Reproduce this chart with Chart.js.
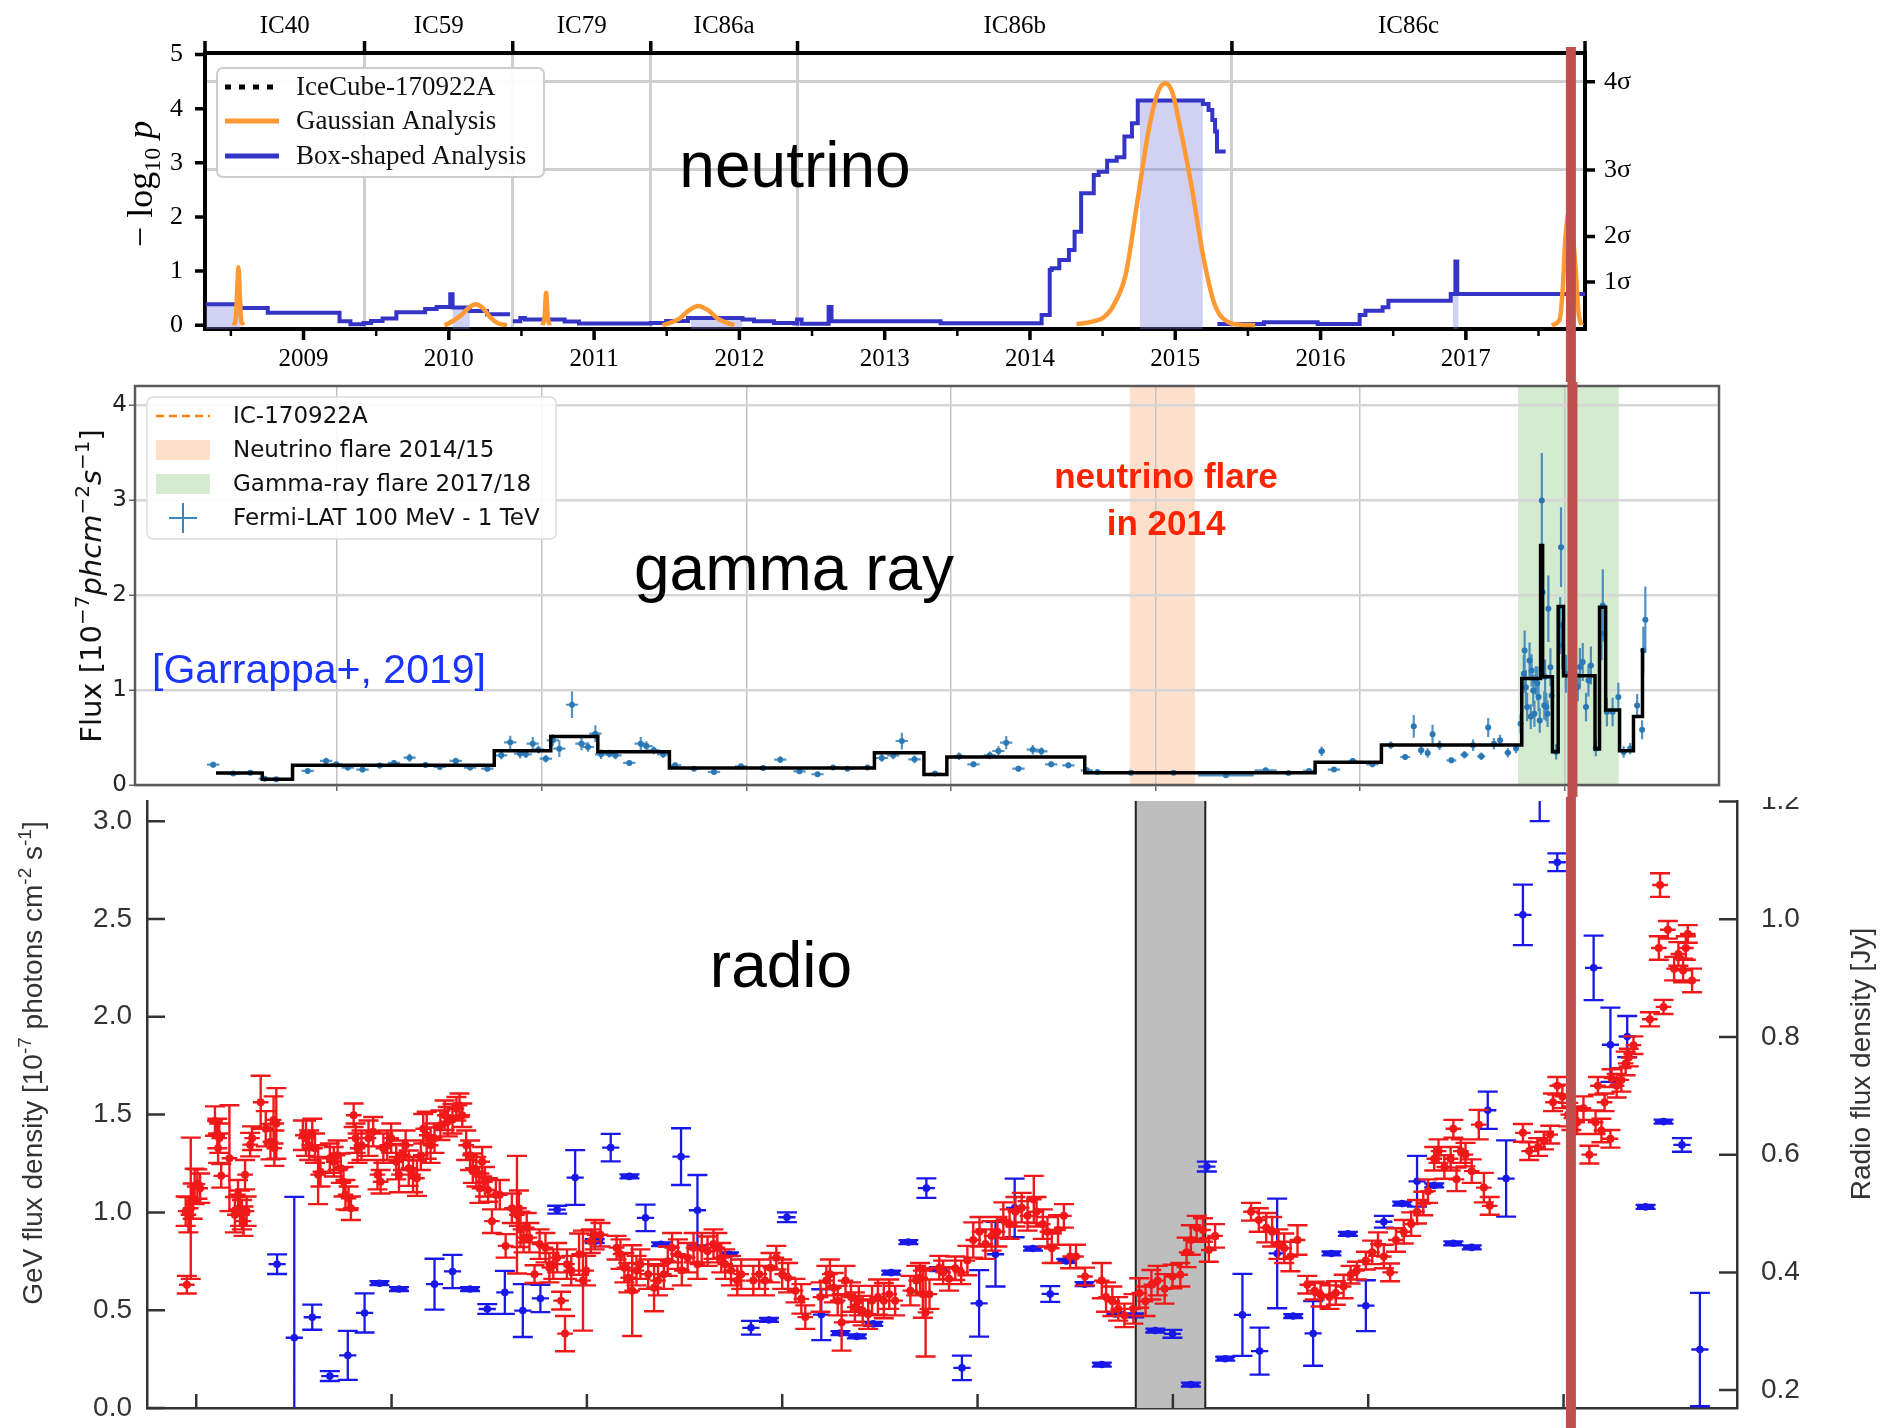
<!DOCTYPE html>
<html>
<head>
<meta charset="utf-8">
<script src="https://cdn.jsdelivr.net/npm/chart.js@4.4.0/dist/chart.umd.min.js"></script>
<style>
  html, body { margin: 0; padding: 0; background: #fff; }
  #wrap { position: relative; width: 1887px; height: 1428px; overflow: hidden; background: #fff; }
  canvas { position: absolute; left: 0; }
  #nu { top: 0; }
  #gam { top: 382px; }
  #rad { top: 797px; }
</style>
</head>
<body>
<div id="wrap">
  <canvas id="nu" width="1887" height="382"></canvas>
  <canvas id="gam" width="1887" height="415"></canvas>
  <canvas id="rad" width="1887" height="631"></canvas>
</div>
<script>
// ---------- neutrino panel (years) ----------
const NU_X_MIN = 2008.322, NU_X_MAX = 2017.82;
const NU_Y_MIN = -0.07, NU_Y_MAX = 5.03;
const YEAR_TICKS = [2009, 2010, 2011, 2012, 2013, 2014, 2015, 2016, 2017];
const HALF_YEAR_TICKS = [2008.5, 2009.5, 2010.5, 2011.5, 2012.5, 2013.5, 2014.5, 2015.5, 2016.5, 2017.5];
const P_TICKS = [0, 1, 2, 3, 4, 5];
const SIGMA_TICKS = [0.80, 1.64, 2.87, 4.50];
const SIGMA_LABELS = ['1σ', '2σ', '3σ', '4σ'];
const SEASON_EDGES = [2008.322, 2009.42, 2010.44, 2011.39, 2012.40, 2015.39, 2017.82];
const SEASON_NAMES = ['IC40', 'IC59', 'IC79', 'IC86a', 'IC86b', 'IC86c'];
const EVENT_YEAR = 2017.723;

const BOX_T = [2008.327, 2008.564, 2008.754, 2009.248, 2009.323, 2009.414, 2009.465, 2009.544, 2009.639, 2009.837,
  2009.916, 2010.010, 2010.026, 2010.145, 2010.263, 2010.421, 2010.431, 2010.441, 2010.492, 2010.524,
  2010.797, 2010.896, 2011.389, 2011.496, 2011.646, 2012.021, 2012.100, 2012.238, 2012.377, 2012.397,
  2012.428, 2012.614, 2012.634, 2013.385, 2014.080, 2014.136, 2014.149, 2014.202, 2014.268, 2014.307,
  2014.352, 2014.439, 2014.473, 2014.531, 2014.597, 2014.650, 2014.702, 2014.742, 2015.190, 2015.229,
  2015.255, 2015.274, 2015.287, 2015.347, 2015.32, 2015.290, 2015.611, 2015.980, 2016.269, 2016.309,
  2016.427, 2016.467, 2016.896, 2016.928, 2016.941, 2017.820];
const BOX_V = [0.388, 0.320, 0.228, 0.074, 0.019, 0.043, 0.080, 0.123, 0.240, 0.301,
  0.338, 0.572, 0.326, 0.264, 0.203, 0.203, null, 0.074, 0.135, 0.105,
  0.068, 0.031, 0.043, 0.080, 0.135, 0.105, 0.074, 0.043, 0.031, 0.105,
  0.025, 0.338, 0.074, 0.035, 0.189, 1.021, 1.052, 1.206, 1.390, 1.729,
  2.438, 2.776, 2.838, 3.041, 3.103, 3.485, 3.731, 4.150, 4.089, 3.978,
  3.793, 3.578, 3.208, 3.208, null, 0.022, 0.053, 0.022, 0.189, 0.269,
  0.331, 0.454, 0.577, 1.175, 0.577, 0.577];

const FILL_T0 = [2008.327, 2010.026, 2011.667, 2014.755, 2016.910];
const FILL_T1 = [2008.564, 2010.145, 2012.021, 2015.190, 2016.950];
const FILL_V = [0.388, 0.326, 0.135, 4.150, 0.577];

const GAUSS_T = [2008.520, 2008.535, 2008.545, 2008.552, 2008.559, 2008.569, 2008.584, 2008.60,
  2009.970, 2009.990, 2010.085, 2010.145, 2010.184, 2010.231, 2010.283, 2010.342, 2010.401, 2010.41,
  2010.645, 2010.660, 2010.666, 2010.670, 2010.674, 2010.680, 2010.695, 2010.70,
  2011.470, 2011.496, 2011.587, 2011.654, 2011.717, 2011.784, 2011.851, 2011.942, 2011.965, 2011.97,
  2014.320, 2014.420, 2014.510, 2014.580, 2014.660, 2014.740, 2014.820, 2014.880, 2014.930, 2014.980,
  2015.030, 2015.110, 2015.190, 2015.270, 2015.370, 2015.450, 2015.550, 2015.56,
  2017.590, 2017.645, 2017.665, 2017.685, 2017.710, 2017.735, 2017.758, 2017.776, 2017.797];
const GAUSS_V = [0, 0.15, 0.75, 1.07, 0.75, 0.15, 0, null,
  0, 0.02, 0.185, 0.338, 0.388, 0.326, 0.154, 0.031, 0.006, null,
  0, 0.18, 0.48, 0.6, 0.48, 0.18, 0, null,
  0, 0.02, 0.123, 0.277, 0.357, 0.277, 0.123, 0.02, 0, null,
  0.02, 0.06, 0.15, 0.39, 0.95, 2.3, 3.65, 4.30, 4.47, 4.30,
  3.7, 2.6, 1.31, 0.39, 0.05, 0.01, 0, null,
  0, 0.10, 0.6, 1.6, 2.1, 1.7, 0.95, 0.22, 0];

// ---------- gamma panel (MJD) ----------
const GAM_X_MIN = 54506, GAM_X_MAX = 58377;
const GAM_Y_MAX = 4.2;
const GAM_GRID = [55000, 55500, 56000, 56500, 57000, 57500, 58000];
const FLUX_TICKS = [0, 1, 2, 3, 4];
const EVENT_MJD = 58018.9;
const NU_FLARE = [56937, 57096];
const GAMMA_FLARE = [57886, 58132];

const GAM_T = [54697, 54746, 54788, 54823, 54851, 54928, 54973, 54998, 55026, 55062,
  55104, 55139, 55177, 55216, 55251, 55290, 55325, 55367, 55401, 55423,
  55447, 55461, 55478, 55492, 55510, 55527, 55543, 55574, 55597, 55613,
  55631, 55645, 55665, 55680, 55714, 55742, 55756, 55774, 55797, 55826,
  55872, 55921, 55987, 56041, 56083, 56130, 56174, 56212, 56247, 56296,
  56331, 56359, 56380, 56411, 56461, 56520, 56555, 56595, 56616, 56635,
  56665, 56700, 56721, 56745, 56787, 56832,
  56858, 56940, 57044, 57172, 57269, 57325, 57375, 57406, 57436, 57482,
  57530, 57575, 57610, 57631, 57649, 57665, 57677, 57694, 57723, 57755,
  57776, 57796, 57813, 57827, 57842, 57861, 57881, 57892, 57900, 57902,
  57905, 57908, 57914, 57917, 57919, 57923, 57926, 57929, 57933, 57936,
  57939, 57944, 57946, 57950, 57952, 57955, 57958, 57960, 57965, 57968,
  57979, 57989, 57991, 57994, 58003, 58032, 58037, 58044, 58052, 58058,
  58064, 58076, 58090, 58093, 58103, 58117, 58131, 58144, 58160, 58177,
  58189, 58192, 58197];
const GAM_F = [0.214, 0.120, 0.130, 0.067, 0.060, 0.148, 0.253, 0.218, 0.183, 0.162,
  0.204, 0.232, 0.288, 0.211, 0.190, 0.253, 0.183, 0.172, 0.312, 0.449,
  0.330, 0.323, 0.435, 0.372, 0.277, 0.470, 0.382, 0.845, 0.435, 0.400,
  0.540, 0.323, 0.330, 0.312, 0.232, 0.435, 0.410, 0.365, 0.323, 0.207,
  0.172, 0.137, 0.197, 0.179, 0.267, 0.144, 0.113, 0.183, 0.172, 0.183,
  0.284, 0.312, 0.463, 0.270, 0.120, 0.302, 0.218, 0.312, 0.358, 0.446,
  0.172, 0.372, 0.354, 0.218, 0.207, 0.155,
  0.137, 0.130, 0.130, 0.102, 0.155, 0.127, 0.148, 0.354, 0.162, 0.253,
  0.218, 0.418, 0.295, 0.618, 0.365, 0.337, 0.533, 0.418, 0.260, 0.319,
  0.418, 0.302, 0.604, 0.435, 0.470, 0.340, 0.383, 0.645, 1.170, 1.417,
  1.030, 0.821, 1.311, 0.720, 1.206, 0.996, 0.750, 1.101, 1.070, 0.926,
  0.680, 2.994, 2.030, 0.838, 1.140, 0.821, 0.750, 1.855, 1.240, 0.943,
  0.348, 1.680, 2.503, 1.469, 1.171, 1.031, 1.241, 1.294, 0.821, 1.101,
  1.259, 0.383, 1.592, 1.890, 0.768, 0.768, 0.926, 0.348, 0.383, 0.838,
  0.582, 1.417, 1.739];
const GAM_FERR = [0.03, 0.025, 0.025, 0.02, 0.02, 0.025, 0.035, 0.03, 0.03, 0.03,
  0.03, 0.03, 0.042, 0.03, 0.03, 0.035, 0.03, 0.03, 0.042, 0.07,
  0.05, 0.04, 0.07, 0.04, 0.04, 0.063, 0.088, 0.14, 0.07, 0.05,
  0.088, 0.05, 0.04, 0.04, 0.03, 0.07, 0.05, 0.04, 0.04, 0.03,
  0.025, 0.025, 0.025, 0.025, 0.035, 0.025, 0.025, 0.025, 0.025, 0.025,
  0.04, 0.04, 0.088, 0.04, 0.025, 0.04, 0.03, 0.04, 0.05, 0.07,
  0.03, 0.05, 0.04, 0.03, 0.03, 0.03,
  0.02, 0.02, 0.02, 0.02, 0.02, 0.02, 0.02, 0.05, 0.02, 0.03,
  0.03, 0.04, 0.03, 0.12, 0.05, 0.05, 0.10, 0.05, 0.03, 0.04,
  0.06, 0.04, 0.10, 0.06, 0.06, 0.05, 0.05, 0.10, 0.20, 0.21,
  0.18, 0.15, 0.19, 0.13, 0.17, 0.17, 0.14, 0.15, 0.18, 0.15,
  0.13, 0.50, 0.40, 0.15, 0.18, 0.15, 0.14, 0.35, 0.20, 0.15,
  0.08, 0.30, 0.42, 0.25, 0.20, 0.15, 0.20, 0.20, 0.15, 0.17,
  0.20, 0.08, 0.28, 0.38, 0.15, 0.15, 0.15, 0.06, 0.06, 0.12,
  0.10, 0.25, 0.35];
const GAM_TERR = [15, 15, 15, 15, 15, 15, 15, 15, 15, 15,
  15, 15, 15, 15, 15, 15, 15, 15, 15, 15,
  15, 15, 15, 15, 15, 15, 15, 15, 15, 15,
  15, 15, 15, 15, 15, 15, 15, 15, 15, 15,
  15, 15, 15, 15, 15, 15, 15, 15, 15, 15,
  15, 15, 15, 15, 15, 15, 15, 15, 15, 15,
  15, 15, 15, 15, 15, 15,
  15, 15, 15, 68, 27, 15, 15, 8, 15, 10,
  15, 8, 12, 6, 8, 6, 6, 8, 12, 10,
  6, 10, 6, 5, 5, 8, 6, 3.5, 3.5, 3.5,
  3.5, 3.5, 3.5, 3.5, 3.5, 3.5, 3.5, 3.5, 3.5, 3.5,
  3.5, 3.5, 3.5, 3.5, 3.5, 3.5, 3.5, 3.5, 3.5, 3.5,
  3.5, 3.5, 3.5, 3.5, 3.5, 3.5, 3.5, 3.5, 3.5, 3.5,
  3.5, 3.5, 3.5, 3.5, 3.5, 3.5, 3.5, 3.5, 3.5, 3.5,
  3.5, 3.5, 3.5];

// Bayesian blocks: each level holds from its start to the next start
const BB_T = [54704, 54817, 54891, 55384, 55522, 55637, 55812, 56313, 56434, 56490,
  56827, 57390, 57552, 57895, 57941, 57946, 57970, 57984, 57997, 58074,
  58085, 58100, 58134, 58168, 58190, 58194];
const BB_F = [0.126, 0.06, 0.207, 0.36, 0.51, 0.35, 0.18, 0.34, 0.11, 0.295,
  0.13, 0.24, 0.42, 1.12, 2.52, 1.14, 0.35, 1.88, 1.15, 0.38,
  1.87, 0.79, 0.36, 0.72, 1.42, 1.42];

// ---------- radio panel (MJD) ----------
const RAD_X_MIN = 54374, RAD_X_MAX = 58444;
const GEV_MIN = 0, GEV_MAX = 3.103;
const JY_MIN = 0.1696, JY_MAX = 1.2008;
const RAD_X_TICKS = [54500, 55000, 55500, 56000, 56500, 57000, 57500, 58000];
const GEV_TICKS = [0, 0.5, 1.0, 1.5, 2.0, 2.5, 3.0];
const JY_TICKS = [0.2, 0.4, 0.6, 0.8, 1.0, 1.2];
const GRAY_BAND = [56905, 57083];

const RED_T = [54473, 54476, 54480, 54486, 54491, 54496, 54503, 54510, 54548, 54554,
  54556, 54559, 54564, 54585, 54599, 54607, 54612, 54617, 54621, 54625,
  54629, 54638, 54643, 54665, 54678, 54690, 54698, 54700, 54705, 54773,
  54781, 54789, 54797, 54804, 54812, 54818, 54842, 54852, 54862, 54870,
  54877, 54882, 54890, 54896, 54903, 54908, 54913, 54923, 54941, 54953,
  54964, 54972, 54979, 54989, 54999, 55012, 55019, 55029, 55036, 55044,
  55055, 55065, 55075, 55081, 55090, 55100, 55110, 55125, 55136, 55144,
  55156, 55166, 55174, 55181, 55191, 55201, 55208, 55217, 55225, 55232,
  55239, 55247, 55257, 55267, 55277, 55292, 55308, 55321, 55326, 55330,
  55338, 55346, 55353, 55366, 55379, 55394, 55404, 55414, 55424, 55434,
  55444, 55449, 55460, 55480, 55490, 55498, 55510, 55520, 55535, 55576,
  55586, 55596, 55606, 55616, 55627, 55637, 55657, 55672, 55682, 55697,
  55707, 55718, 55733, 55743, 55758, 55773, 55783, 55794, 55809, 55824,
  55834, 55844, 55854, 55869, 55885, 55895, 55926, 55941, 55956, 55970,
  55985, 56000, 56015, 56034, 56049, 56059, 56098, 56113, 56122, 56132,
  56142, 56152, 56162, 56176, 56186, 56196, 56206, 56220, 56230, 56245,
  56260, 56274, 56289, 56328, 56343, 56353, 56360, 56367, 56377, 56402,
  56412, 56427, 56443, 56458, 56474, 56489, 56505, 56520, 56536, 56551,
  56566, 56582, 56597, 56613, 56628, 56644, 56651, 56667, 56679, 56690,
  56706, 56721, 56737, 56752, 56775, 56818, 56829, 56845, 56860, 56876,
  56899, 56914, 56930, 56945, 56961, 56979, 56999, 57019, 57035, 57046,
  57061, 57077, 57092, 57108, 57200, 57220, 57239, 57254, 57270, 57285,
  57301, 57319, 57344, 57363, 57378, 57401, 57417, 57437, 57455, 57471,
  57494, 57510, 57525, 57540, 57556, 57571, 57591, 57610, 57625, 57641,
  57653, 57669, 57680, 57695, 57711, 57718, 57726, 57737, 57749, 57765,
  57783, 57796, 57811, 57896, 57912, 57935, 57950, 57966, 57973, 57984,
  57997, 58012, 58020, 58035, 58051, 58066, 58082, 58088, 58097, 58105,
  58120, 58123, 58136, 58148, 58159, 58167, 58179, 58221, 58244, 58247,
  58256, 58267, 58283, 58294, 58306, 58313, 58318, 58329];
const RED_JY = [0.504, 0.379, 0.498, 0.509, 0.521, 0.546, 0.550, 0.543, 0.657, 0.636,
  0.611, 0.628, 0.564, 0.594, 0.498, 0.532, 0.509, 0.498, 0.487, 0.566,
  0.504, 0.617, 0.628, 0.689, 0.644, 0.622, 0.659, 0.611, 0.653, 0.633,
  0.628, 0.616, 0.636, 0.611, 0.566, 0.571, 0.594, 0.588, 0.599, 0.577,
  0.554, 0.532, 0.526, 0.509, 0.667, 0.628, 0.611, 0.616, 0.628, 0.639,
  0.566, 0.554, 0.611, 0.616, 0.628, 0.588, 0.566, 0.599, 0.616, 0.577,
  0.566, 0.560, 0.599, 0.644, 0.633, 0.616, 0.628, 0.650, 0.667, 0.656,
  0.661, 0.678, 0.684, 0.667, 0.616, 0.599, 0.577, 0.571, 0.543, 0.588,
  0.554, 0.540, 0.487, 0.532, 0.532, 0.445, 0.509, 0.498, 0.509, 0.473,
  0.459, 0.476, 0.459, 0.397, 0.448, 0.442, 0.408, 0.414, 0.425, 0.352,
  0.296, 0.414, 0.403, 0.431, 0.386, 0.403, 0.453, 0.464, 0.464, 0.442,
  0.431, 0.408, 0.391, 0.369, 0.403, 0.414, 0.397, 0.374, 0.386, 0.397,
  0.419, 0.442, 0.431, 0.403, 0.425, 0.442, 0.414, 0.442, 0.436, 0.448,
  0.442, 0.425, 0.414, 0.403, 0.386, 0.397, 0.386, 0.397, 0.386, 0.408,
  0.425, 0.397, 0.391, 0.369, 0.355, 0.324, 0.358, 0.386, 0.397, 0.374,
  0.352, 0.315, 0.386, 0.358, 0.341, 0.352, 0.335, 0.329, 0.352, 0.358,
  0.352, 0.363, 0.352, 0.369, 0.386, 0.391, 0.363, 0.332, 0.363, 0.408,
  0.400, 0.389, 0.407, 0.400, 0.420, 0.455, 0.469, 0.448, 0.462, 0.469,
  0.489, 0.482, 0.503, 0.510, 0.496, 0.524, 0.503, 0.482, 0.469, 0.441,
  0.472, 0.496, 0.427, 0.427, 0.393, 0.386, 0.358, 0.351, 0.338, 0.327,
  0.338, 0.365, 0.351, 0.379, 0.386, 0.372, 0.393, 0.396, 0.434, 0.455,
  0.476, 0.472, 0.438, 0.462, 0.503, 0.489, 0.476, 0.469, 0.448, 0.441,
  0.427, 0.455, 0.379, 0.369, 0.362, 0.358, 0.365, 0.376, 0.396, 0.403,
  0.420, 0.434, 0.448, 0.427, 0.400, 0.455, 0.469, 0.482, 0.503, 0.517,
  0.538, 0.593, 0.606, 0.579, 0.593, 0.644, 0.558, 0.606, 0.600, 0.572,
  0.651, 0.544, 0.513, 0.637, 0.606, 0.613, 0.624, 0.634, 0.689, 0.717,
  0.699, 0.668, 0.662, 0.655, 0.679, 0.600, 0.655, 0.717, 0.641, 0.689,
  0.627, 0.730, 0.717, 0.727, 0.755, 0.765, 0.786, 0.830, 0.951, 1.058,
  0.851, 0.982, 0.916, 0.941, 0.913, 0.951, 0.975, 0.896];
const RED_ERR = [0.025, 0.015, 0.03, 0.12, 0.03, 0.03, 0.025, 0.025, 0.025, 0.025,
  0.025, 0.025, 0.02, 0.09, 0.03, 0.025, 0.03, 0.025, 0.025, 0.025,
  0.025, 0.02, 0.02, 0.045, 0.03, 0.03, 0.04, 0.03, 0.06, 0.025,
  0.03, 0.025, 0.025, 0.025, 0.05, 0.025, 0.025, 0.025, 0.025, 0.025,
  0.025, 0.025, 0.02, 0.02, 0.02, 0.025, 0.025, 0.025, 0.03, 0.025,
  0.025, 0.02, 0.025, 0.025, 0.025, 0.03, 0.03, 0.025, 0.025, 0.03,
  0.03, 0.03, 0.025, 0.025, 0.04, 0.03, 0.025, 0.025, 0.025, 0.025,
  0.025, 0.02, 0.02, 0.02, 0.025, 0.025, 0.025, 0.025, 0.025, 0.025,
  0.025, 0.02, 0.02, 0.025, 0.025, 0.02, 0.025, 0.10, 0.03, 0.03,
  0.025, 0.025, 0.025, 0.015, 0.025, 0.025, 0.025, 0.025, 0.025, 0.015,
  0.03, 0.025, 0.025, 0.035, 0.085, 0.025, 0.02, 0.025, 0.02, 0.02,
  0.025, 0.025, 0.025, 0.077, 0.025, 0.025, 0.025, 0.04, 0.025, 0.025,
  0.025, 0.025, 0.025, 0.025, 0.025, 0.025, 0.025, 0.025, 0.025, 0.025,
  0.025, 0.025, 0.025, 0.025, 0.025, 0.025, 0.025, 0.025, 0.025, 0.025,
  0.02, 0.025, 0.025, 0.02, 0.025, 0.02, 0.025, 0.025, 0.025, 0.025,
  0.025, 0.048, 0.025, 0.025, 0.025, 0.025, 0.025, 0.025, 0.025, 0.03,
  0.03, 0.025, 0.025, 0.025, 0.025, 0.025, 0.04, 0.075, 0.025, 0.02,
  0.02, 0.02, 0.02, 0.02, 0.025, 0.03, 0.025, 0.025, 0.025, 0.025,
  0.03, 0.025, 0.025, 0.025, 0.025, 0.04, 0.025, 0.025, 0.025, 0.025,
  0.025, 0.02, 0.02, 0.02, 0.015, 0.03, 0.025, 0.025, 0.02, 0.02,
  0.025, 0.025, 0.025, 0.025, 0.025, 0.025, 0.02, 0.02, 0.025, 0.025,
  0.02, 0.02, 0.02, 0.02, 0.015, 0.02, 0.025, 0.025, 0.025, 0.025,
  0.025, 0.025, 0.015, 0.015, 0.02, 0.02, 0.02, 0.02, 0.015, 0.015,
  0.015, 0.02, 0.02, 0.02, 0.015, 0.02, 0.02, 0.02, 0.02, 0.02,
  0.02, 0.02, 0.02, 0.02, 0.02, 0.015, 0.02, 0.02, 0.02, 0.02,
  0.025, 0.025, 0.015, 0.015, 0.015, 0.015, 0.015, 0.015, 0.015, 0.015,
  0.02, 0.02, 0.02, 0.02, 0.02, 0.015, 0.02, 0.015, 0.02, 0.015,
  0.015, 0.015, 0.02, 0.02, 0.02, 0.015, 0.015, 0.012, 0.02, 0.02,
  0.012, 0.015, 0.02, 0.02, 0.02, 0.02, 0.015, 0.02];

const BLUE_T = [54707, 54751, 54797, 54842, 54888, 54931, 54969, 55019, 55110, 55156,
  55201, 55245, 55290, 55336, 55381, 55424, 55470, 55520, 55561, 55609,
  55650, 55690, 55741, 55783, 55864, 55920, 55966, 56012, 56100, 56149,
  56191, 56233, 56279, 56323, 56369, 56401, 56460, 56504, 56546, 56595,
  56642, 56686, 56727, 56774, 56818, 56852, 56901, 56955, 56999, 57046,
  57087, 57134, 57178, 57222, 57267, 57308, 57359, 57406, 57448, 57494,
  57540, 57587, 57625, 57669, 57718, 57765, 57806, 57853, 57896, 57939,
  57984, 58077, 58120, 58163, 58210, 58256, 58303, 58349];
const BLUE_GEV = [0.735, 0.359, 0.464, 0.163, 0.269, 0.486, 0.638, 0.608, 0.633, 0.698,
  0.608, 0.506, 0.591, 0.498, 0.560, 1.014, 1.178, 0.853, 1.331, 1.184,
  0.972, 0.837, 1.285, 1.011, 0.786, 0.410, 0.450, 0.975, 0.477, 0.383,
  0.366, 0.430, 0.692, 0.848, 1.124, 0.710, 0.205, 0.535, 0.786, 1.023,
  0.815, 0.583, 0.752, 0.633, 0.222, 0.481, 0.473, 0.396, 0.379, 0.120,
  1.234, 0.252, 0.476, 0.291, 0.790, 0.470, 0.381, 0.790, 0.890, 0.523,
  0.952, 1.045, 1.159, 1.138, 0.842, 0.821, 1.522, 1.173, 2.521, 3.200,
  2.790, 2.250, 1.857, 1.899, 1.028, 1.464, 1.345, 0.299];
const BLUE_ERR = [0.05, 0.72, 0.064, 0.025, 0.125, 0.10, 0.01, 0.01, 0.13, 0.085,
  0.01, 0.025, 0.11, 0.135, 0.07, 0.02, 0.14, 0.01, 0.07, 0.01,
  0.068, 0.01, 0.145, 0.18, 0.01, 0.035, 0.01, 0.025, 0.13, 0.01,
  0.01, 0.01, 0.01, 0.01, 0.05, 0.01, 0.063, 0.17, 0.165, 0.15,
  0.01, 0.04, 0.01, 0.01, 0.01, 0.01, 0.01, 0.01, 0.02, 0.01,
  0.025, 0.01, 0.21, 0.12, 0.28, 0.01, 0.165, 0.01, 0.01, 0.13,
  0.03, 0.01, 0.13, 0.01, 0.01, 0.01, 0.095, 0.195, 0.155, 0.20,
  0.045, 0.165, 0.19, 0.105, 0.01, 0.01, 0.035, 0.29];

// ---------- styles ----------
const SERIF = '"Liberation Serif", "DejaVu Serif", serif';
const SANS = '"Liberation Sans", Arial, sans-serif';
const DJV = '"DejaVu Sans", sans-serif';
const NU_BLUE = '#3434C6';
const NU_ORANGE = '#FF9933';
const NU_FILL = 'rgba(128,128,222,0.36)';
const NU_GRID = '#cfcfcf';
const EVENT_COLOR = '#C0504D';
const GAM_BLUE = '#2a78b5';
const PEACH = '#FDE0CC';
const GREEN = '#D4EBD0';
const RAD_RED = '#F01818';
const RAD_BLUE = '#1818E8';
const CLEAR = 'rgba(0,0,0,0)';

function pts(xs, ys) {
  return xs.map((x, i) => ({ x: x, y: ys[i] }));
}

function roundRect(ctx, x, y, w, h, r) {
  ctx.beginPath();
  ctx.moveTo(x + r, y);
  ctx.arcTo(x + w, y, x + w, y + h, r);
  ctx.arcTo(x + w, y + h, x, y + h, r);
  ctx.arcTo(x, y + h, x, y, r);
  ctx.arcTo(x, y, x + w, y, r);
  ctx.closePath();
}

function drawText(ctx, t) {
  ctx.save();
  ctx.translate(t.x, t.y);
  if (t.rot) ctx.rotate(t.rot);
  const parts = t.parts || [{ s: t.s }];
  let w = 0;
  parts.forEach(p => { ctx.font = p.font || t.font; w += ctx.measureText(p.s).width; });
  let cx = t.align === 'center' ? -w / 2 : (t.align === 'right' ? -w : 0);
  ctx.textAlign = 'left';
  ctx.textBaseline = 'alphabetic';
  parts.forEach(p => {
    ctx.font = p.font || t.font;
    ctx.fillStyle = p.color || t.color || '#000';
    ctx.fillText(p.s, cx, p.dy || 0);
    cx += ctx.measureText(p.s).width;
  });
  ctx.restore();
}

// error bars for any dataset carrying errY
Chart.register({
  id: 'errorBars',
  beforeDatasetDraw(chart, args) {
    const ds = chart.data.datasets[args.index];
    if (!ds.errY) return;
    const xs = chart.scales[args.meta.xAxisID];
    const ys = chart.scales[args.meta.yAxisID];
    const ca = chart.chartArea;
    const ctx = chart.ctx;
    ctx.save();
    ctx.beginPath();
    ctx.rect(ca.left, ca.top, ca.right - ca.left, ca.bottom - ca.top);
    ctx.clip();
    ctx.strokeStyle = ds.errColor;
    ctx.lineWidth = ds.errWidth;
    ctx.beginPath();
    ds.data.forEach((p, i) => {
      const ey = ds.errY[i];
      const ex = Array.isArray(ds.errX) ? ds.errX[i] : ds.errX;
      const px = xs.getPixelForValue(p.x);
      const py = ys.getPixelForValue(p.y);
      const yHi = ys.getPixelForValue(p.y + ey);
      const yLo = ys.getPixelForValue(p.y - ey);
      ctx.moveTo(px, yHi); ctx.lineTo(px, yLo);
      if (ex) {
        ctx.moveTo(xs.getPixelForValue(p.x - ex), py);
        ctx.lineTo(xs.getPixelForValue(p.x + ex), py);
      }
      if (ds.capHalf) {
        ctx.moveTo(px - ds.capHalf, yHi); ctx.lineTo(px + ds.capHalf, yHi);
        ctx.moveTo(px - ds.capHalf, yLo); ctx.lineTo(px + ds.capHalf, yLo);
      }
    });
    ctx.stroke();
    ctx.restore();
  }
});

function tickPlugin(list) {
  return {
    id: 'tickMarks',
    afterDraw(chart) {
      const ctx = chart.ctx, ca = chart.chartArea;
      list.forEach(t => {
        const s = chart.scales[t.scale];
        const sign = t.inward ? -1 : 1;
        ctx.save();
        ctx.strokeStyle = t.color;
        ctx.lineWidth = t.width;
        ctx.beginPath();
        t.values.forEach(v => {
          const p = s.getPixelForValue(v);
          if (s.position === 'bottom') { ctx.moveTo(p, ca.bottom); ctx.lineTo(p, ca.bottom + sign * t.len); }
          else if (s.position === 'top') { ctx.moveTo(p, ca.top); ctx.lineTo(p, ca.top - sign * t.len); }
          else if (s.position === 'left') { ctx.moveTo(ca.left, p); ctx.lineTo(ca.left - sign * t.len, p); }
          else { ctx.moveTo(ca.right, p); ctx.lineTo(ca.right + sign * t.len, p); }
        });
        ctx.stroke();
        ctx.restore();
      });
    }
  };
}

function bandPlugin(list, hook) {
  const p = { id: 'bands' };
  p[hook] = function (chart) {
    const ctx = chart.ctx, ca = chart.chartArea;
    list.forEach(b => {
      const s = chart.scales[b.scale];
      const x0 = s.getPixelForValue(b.from), x1 = s.getPixelForValue(b.to);
      ctx.save();
      ctx.fillStyle = b.color;
      ctx.fillRect(x0, ca.top, x1 - x0, ca.bottom - ca.top);
      if (b.edge) {
        ctx.strokeStyle = b.edge;
        ctx.lineWidth = 2;
        ctx.beginPath();
        ctx.moveTo(x0, ca.top); ctx.lineTo(x0, ca.bottom);
        ctx.moveTo(x1, ca.top); ctx.lineTo(x1, ca.bottom);
        ctx.stroke();
      }
      ctx.restore();
    });
  };
  return p;
}

function textPlugin(items) {
  return {
    id: 'texts',
    afterDraw(chart) { items.forEach(t => drawText(chart.ctx, t)); }
  };
}

function eventPlugin(scaleId, value, top) {
  return {
    id: 'eventLine',
    afterDraw(chart) {
      const x = chart.scales[scaleId].getPixelForValue(value);
      const ctx = chart.ctx;
      ctx.save();
      ctx.strokeStyle = EVENT_COLOR;
      ctx.lineWidth = 10;
      ctx.beginPath();
      ctx.moveTo(x, top);
      ctx.lineTo(x, chart.height);
      ctx.stroke();
      ctx.restore();
    }
  };
}

function legendPlugin(box, items) {
  return {
    id: 'boxLegend',
    afterDatasetsDraw(chart) {
      const ctx = chart.ctx;
      ctx.save();
      roundRect(ctx, box.x, box.y, box.w, box.h, box.r);
      ctx.fillStyle = 'rgba(255,255,255,0.9)';
      ctx.fill();
      ctx.lineWidth = box.lineWidth;
      ctx.strokeStyle = box.stroke;
      ctx.stroke();
      items.forEach(it => {
        ctx.save();
        if (it.kind === 'line') {
          ctx.strokeStyle = it.color;
          ctx.lineWidth = it.width;
          ctx.setLineDash(it.dash || []);
          ctx.beginPath();
          ctx.moveTo(box.s0, it.y); ctx.lineTo(box.s1, it.y);
          ctx.stroke();
        } else if (it.kind === 'patch') {
          ctx.fillStyle = it.color;
          ctx.fillRect(box.s0, it.y - 10, box.s1 - box.s0, 20);
        } else if (it.kind === 'plus') {
          const cx = (box.s0 + box.s1) / 2;
          ctx.strokeStyle = it.color;
          ctx.lineWidth = 2;
          ctx.beginPath();
          ctx.moveTo(cx - 14, it.y); ctx.lineTo(cx + 14, it.y);
          ctx.moveTo(cx, it.y - 15); ctx.lineTo(cx, it.y + 15);
          ctx.stroke();
        }
        ctx.restore();
        ctx.fillStyle = '#111';
        ctx.font = box.font;
        ctx.textAlign = 'left';
        ctx.textBaseline = 'middle';
        ctx.fillText(it.label, box.tx, it.y + 1);
      });
      ctx.restore();
    }
  };
}

function framePlugin(color, width) {
  return {
    id: 'frame',
    afterDatasetsDraw(chart) {
      const ca = chart.chartArea, ctx = chart.ctx;
      ctx.save();
      ctx.strokeStyle = color;
      ctx.lineWidth = width;
      ctx.strokeRect(ca.left, ca.top, ca.right - ca.left, ca.bottom - ca.top);
      ctx.restore();
    }
  };
}

const baseOptions = {
  responsive: false,
  animation: false,
  devicePixelRatio: 1,
  events: [],
  plugins: { legend: { display: false }, tooltip: { enabled: false } }
};

function setTicks(list) {
  return s => { s.ticks = list.map(v => ({ value: v })); };
}
function fixW(w) {
  return s => { s.width = w; s.paddingTop = 0; s.paddingBottom = 0; };
}
function fixH(h) {
  return s => { s.height = h; s.paddingLeft = 0; s.paddingRight = 0; };
}

// ================= neutrino panel =================
const SEASON_CENTERS = SEASON_NAMES.map((n, i) => (SEASON_EDGES[i] + SEASON_EDGES[i + 1]) / 2);
const SEASON_TICKS = SEASON_EDGES.concat(SEASON_CENTERS).sort((a, b) => a - b);
const INNER_EDGES = SEASON_EDGES.slice(1, -1);

function seasonLabel(v) {
  const i = SEASON_CENTERS.findIndex(c => Math.abs(c - v) < 1e-6);
  return i >= 0 ? SEASON_NAMES[i] : '';
}

new Chart(document.getElementById('nu'), {
  type: 'line',
  data: {
    datasets: [
      { data: pts(GAUSS_T, GAUSS_V), borderColor: NU_ORANGE, borderWidth: 4.5, pointRadius: 0,
        cubicInterpolationMode: 'monotone', xAxisID: 'x', yAxisID: 'y' },
      { data: pts(BOX_T, BOX_V), stepped: true, borderColor: NU_BLUE, borderWidth: 4, pointRadius: 0,
        xAxisID: 'x', yAxisID: 'y' },
      { data: [{ x: EVENT_YEAR, y: NU_Y_MIN }, { x: EVENT_YEAR, y: NU_Y_MAX }], borderColor: '#000',
        borderWidth: 4, borderDash: [5, 7], pointRadius: 0, xAxisID: 'x', yAxisID: 'y' }
    ].concat(FILL_T0.map((t0, i) => ({
      data: [{ x: t0, y: FILL_V[i] }, { x: FILL_T1[i], y: FILL_V[i] }],
      stepped: true, fill: 'start', backgroundColor: NU_FILL, borderColor: CLEAR, borderWidth: 1,
      pointRadius: 0, xAxisID: 'x', yAxisID: 'y'
    })))
  },
  options: Object.assign({}, baseOptions, {
    scales: {
      x: {
        type: 'linear', position: 'bottom', min: NU_X_MIN, max: NU_X_MAX,
        afterBuildTicks: setTicks(YEAR_TICKS), afterFit: fixH(53),
        grid: { display: false, drawTicks: false },
        border: { width: 4, color: '#000' },
        ticks: { autoSkip: false, maxRotation: 0, padding: 15, color: '#000',
          font: { family: SERIF, size: 25 }, callback: v => String(v) }
      },
      xTop: {
        type: 'linear', position: 'top', min: NU_X_MIN, max: NU_X_MAX,
        afterBuildTicks: setTicks(SEASON_TICKS), afterFit: fixH(53),
        grid: { drawTicks: false, lineWidth: 3,
          color: c => (c.tick && INNER_EDGES.some(e => Math.abs(e - c.tick.value) < 1e-6)) ? NU_GRID : CLEAR },
        border: { width: 4, color: '#000' },
        ticks: { autoSkip: false, maxRotation: 0, padding: 12, color: '#000',
          font: { family: SERIF, size: 25 }, callback: v => seasonLabel(v) }
      },
      y: {
        type: 'linear', position: 'left', min: NU_Y_MIN, max: NU_Y_MAX,
        afterBuildTicks: setTicks(P_TICKS), afterFit: fixW(205),
        grid: { display: false, drawTicks: false },
        border: { width: 4, color: '#000' },
        ticks: { padding: 22, color: '#000', font: { family: SERIF, size: 26 } }
      },
      ySig: {
        type: 'linear', position: 'right', min: NU_Y_MIN, max: NU_Y_MAX,
        afterBuildTicks: setTicks(SIGMA_TICKS), afterFit: fixW(302),
        grid: { drawTicks: false, lineWidth: 3,
          color: c => (c.tick && c.tick.value > 2) ? NU_GRID : CLEAR },
        border: { width: 4, color: '#000' },
        ticks: { padding: 19, color: '#000', font: { family: SERIF, size: 26 },
          callback: (v, i) => SIGMA_LABELS[i] }
      }
    }
  }),
  plugins: [
    tickPlugin([
      { scale: 'y', values: P_TICKS, len: 10, width: 3.5, color: '#000' },
      { scale: 'ySig', values: SIGMA_TICKS, len: 10, width: 3.5, color: '#000' },
      { scale: 'xTop', values: SEASON_EDGES, len: 12, width: 3.5, color: '#000' },
      { scale: 'x', values: YEAR_TICKS, len: 11, width: 3.5, color: '#000' },
      { scale: 'x', values: HALF_YEAR_TICKS, len: 7, width: 2.5, color: '#000' }
    ]),
    legendPlugin(
      { x: 217, y: 68, w: 327, h: 109, r: 6, lineWidth: 2, stroke: '#cccccc', s0: 225, s1: 279, tx: 296,
        font: '27px ' + SERIF },
      [
        { kind: 'line', color: '#000', width: 5, dash: [6, 8], y: 87, label: 'IceCube-170922A' },
        { kind: 'line', color: NU_ORANGE, width: 5, y: 121, label: 'Gaussian Analysis' },
        { kind: 'line', color: NU_BLUE, width: 5, y: 156, label: 'Box-shaped Analysis' }
      ]),
    textPlugin([
      { s: 'neutrino', x: 795, y: 187, align: 'center', font: '64px ' + SANS, color: '#000' },
      { x: 152, y: 184, rot: -Math.PI / 2, align: 'center', color: '#000', parts: [
        { s: '− log', font: '36px ' + SERIF },
        { s: '10', font: '24px ' + SERIF, dy: 8 },
        { s: ' p', font: 'italic 36px ' + SERIF }
      ] }
    ]),
    eventPlugin('x', EVENT_YEAR, 47)
  ]
});

// ================= gamma-ray panel =================
new Chart(document.getElementById('gam'), {
  type: 'scatter',
  data: {
    datasets: [
      { type: 'line', data: pts(BB_T, BB_F), stepped: true, borderColor: '#000', borderWidth: 3.5,
        pointRadius: 0, xAxisID: 'x', yAxisID: 'y' },
      { type: 'line', data: [{ x: EVENT_MJD, y: 0 }, { x: EVENT_MJD, y: GAM_Y_MAX }], borderColor: '#ff7f0e',
        borderWidth: 2.5, borderDash: [8, 5], pointRadius: 0, xAxisID: 'x', yAxisID: 'y' },
      { data: pts(GAM_T, GAM_F), pointRadius: 3, backgroundColor: GAM_BLUE, borderWidth: 0,
        errY: GAM_FERR, errX: GAM_TERR, errColor: 'rgba(42,120,181,0.8)', errWidth: 2.2,
        xAxisID: 'x', yAxisID: 'y' }
    ]
  },
  options: Object.assign({}, baseOptions, {
    layout: { padding: { top: 3, right: 168 } },
    scales: {
      x: {
        type: 'linear', min: GAM_X_MIN, max: GAM_X_MAX,
        afterBuildTicks: setTicks(GAM_GRID), afterFit: fixH(12),
        grid: { color: '#c4c4c4', lineWidth: 1.5, drawTicks: true, tickLength: 6, tickColor: '#666', tickWidth: 1.5 },
        border: { display: false },
        ticks: { display: false }
      },
      y: {
        type: 'linear', min: 0, max: GAM_Y_MAX,
        afterBuildTicks: setTicks(FLUX_TICKS), afterFit: fixW(135),
        grid: { color: '#d6d6d6', lineWidth: 2.5, drawTicks: true, tickLength: 6, tickColor: '#666', tickWidth: 1.5 },
        border: { display: false },
        ticks: { padding: 2, color: '#222', font: { family: DJV, size: 23 } }
      }
    }
  }),
  plugins: [
    bandPlugin([
      { scale: 'x', from: NU_FLARE[0], to: NU_FLARE[1], color: PEACH },
      { scale: 'x', from: GAMMA_FLARE[0], to: GAMMA_FLARE[1], color: GREEN }
    ], 'beforeDraw'),
    framePlugin('#5a5a5a', 2.5),
    legendPlugin(
      { x: 147, y: 15, w: 409, h: 142, r: 6, lineWidth: 1.5, stroke: '#dddddd', s0: 156, s1: 210, tx: 233,
        font: '23px ' + DJV },
      [
        { kind: 'line', color: '#ff7f0e', width: 2.5, dash: [8, 5], y: 34, label: 'IC-170922A' },
        { kind: 'patch', color: PEACH, y: 68, label: 'Neutrino flare 2014/15' },
        { kind: 'patch', color: GREEN, y: 102, label: 'Gamma-ray flare 2017/18' },
        { kind: 'plus', color: '#3a86c0', y: 136, label: 'Fermi-LAT 100 MeV - 1 TeV' }
      ]),
    textPlugin([
      { s: 'gamma ray', x: 794, y: 208, align: 'center', font: '64px ' + SANS, color: '#000' },
      { s: 'neutrino flare', x: 1166, y: 106, align: 'center', font: 'bold 35px ' + SANS, color: '#FF2400' },
      { s: 'in 2014', x: 1166, y: 153, align: 'center', font: 'bold 35px ' + SANS, color: '#FF2400' },
      { s: '[Garrappa+, 2019]', x: 152, y: 301, align: 'left', font: '41px ' + SANS, color: '#1A33FF' },
      { x: 101, y: 204, rot: -Math.PI / 2, align: 'center', color: '#111', parts: [
        { s: 'Flux [', font: '29px ' + DJV },
        { s: '10', font: '29px ' + DJV },
        { s: '−7', font: '20px ' + DJV, dy: -12 },
        { s: 'phcm', font: 'italic 29px ' + DJV },
        { s: '−2', font: '20px ' + DJV, dy: -12 },
        { s: 's', font: 'italic 29px ' + DJV },
        { s: '−1', font: '20px ' + DJV, dy: -12 },
        { s: ']', font: '29px ' + DJV }
      ] }
    ]),
    eventPlugin('x', EVENT_MJD, 0)
  ]
});

// ================= radio panel =================
new Chart(document.getElementById('rad'), {
  type: 'scatter',
  data: {
    datasets: [
      { data: pts(RED_T, RED_JY), pointRadius: 4, backgroundColor: RAD_RED, borderWidth: 0,
        errY: RED_ERR, errX: 20, capHalf: 10, errColor: RAD_RED, errWidth: 2.4,
        xAxisID: 'x', yAxisID: 'yR' },
      { data: pts(BLUE_T, BLUE_GEV), pointRadius: 3.8, backgroundColor: RAD_BLUE, borderWidth: 0,
        errY: BLUE_ERR, errX: 22, capHalf: 10, errColor: RAD_BLUE, errWidth: 2.3,
        xAxisID: 'x', yAxisID: 'y' }
    ]
  },
  options: Object.assign({}, baseOptions, {
    scales: {
      x: {
        type: 'linear', min: RAD_X_MIN, max: RAD_X_MAX,
        afterBuildTicks: setTicks(RAD_X_TICKS), afterFit: fixH(20),
        grid: { display: false, drawTicks: false },
        border: { width: 2.5, color: '#333' },
        ticks: { display: false }
      },
      y: {
        type: 'linear', position: 'left', min: GEV_MIN, max: GEV_MAX,
        afterBuildTicks: setTicks(GEV_TICKS), afterFit: fixW(147),
        grid: { display: false, drawTicks: false },
        border: { width: 2.5, color: '#333' },
        ticks: { padding: 15, color: '#333', font: { family: SANS, size: 28 }, callback: v => v.toFixed(1) }
      },
      yR: {
        type: 'linear', position: 'right', min: JY_MIN, max: JY_MAX,
        afterBuildTicks: setTicks(JY_TICKS), afterFit: fixW(150),
        grid: { display: false, drawTicks: false },
        border: { width: 2.5, color: '#333' },
        ticks: { padding: 24, color: '#333', font: { family: SANS, size: 28 }, callback: v => v.toFixed(1) }
      }
    }
  }),
  plugins: [
    bandPlugin([
      { scale: 'x', from: GRAY_BAND[0], to: GRAY_BAND[1], color: '#BEBEBE', edge: '#222' }
    ], 'beforeDatasetsDraw'),
    tickPlugin([
      { scale: 'y', values: GEV_TICKS, len: 18, width: 2.5, color: '#333', inward: true },
      { scale: 'yR', values: JY_TICKS, len: 18, width: 2.5, color: '#333', inward: true },
      { scale: 'x', values: RAD_X_TICKS, len: 14, width: 2.5, color: '#333', inward: true }
    ]),
    textPlugin([
      { s: 'radio', x: 781, y: 190, align: 'center', font: '64px ' + SANS, color: '#000' },
      { x: 42, y: 266, rot: -Math.PI / 2, align: 'center', color: '#333', parts: [
        { s: 'GeV flux density [10', font: '28px ' + SANS },
        { s: '-7', font: '19px ' + SANS, dy: -11 },
        { s: ' photons cm', font: '28px ' + SANS },
        { s: '-2', font: '19px ' + SANS, dy: -11 },
        { s: ' s', font: '28px ' + SANS },
        { s: '-1', font: '19px ' + SANS, dy: -11 },
        { s: ']', font: '28px ' + SANS }
      ] },
      { s: 'Radio flux density [Jy]', x: 1870, y: 267, rot: -Math.PI / 2, align: 'center',
        font: '28px ' + SANS, color: '#333' }
    ]),
    eventPlugin('x', EVENT_MJD, 0)
  ]
});
</script>
</body>
</html>
